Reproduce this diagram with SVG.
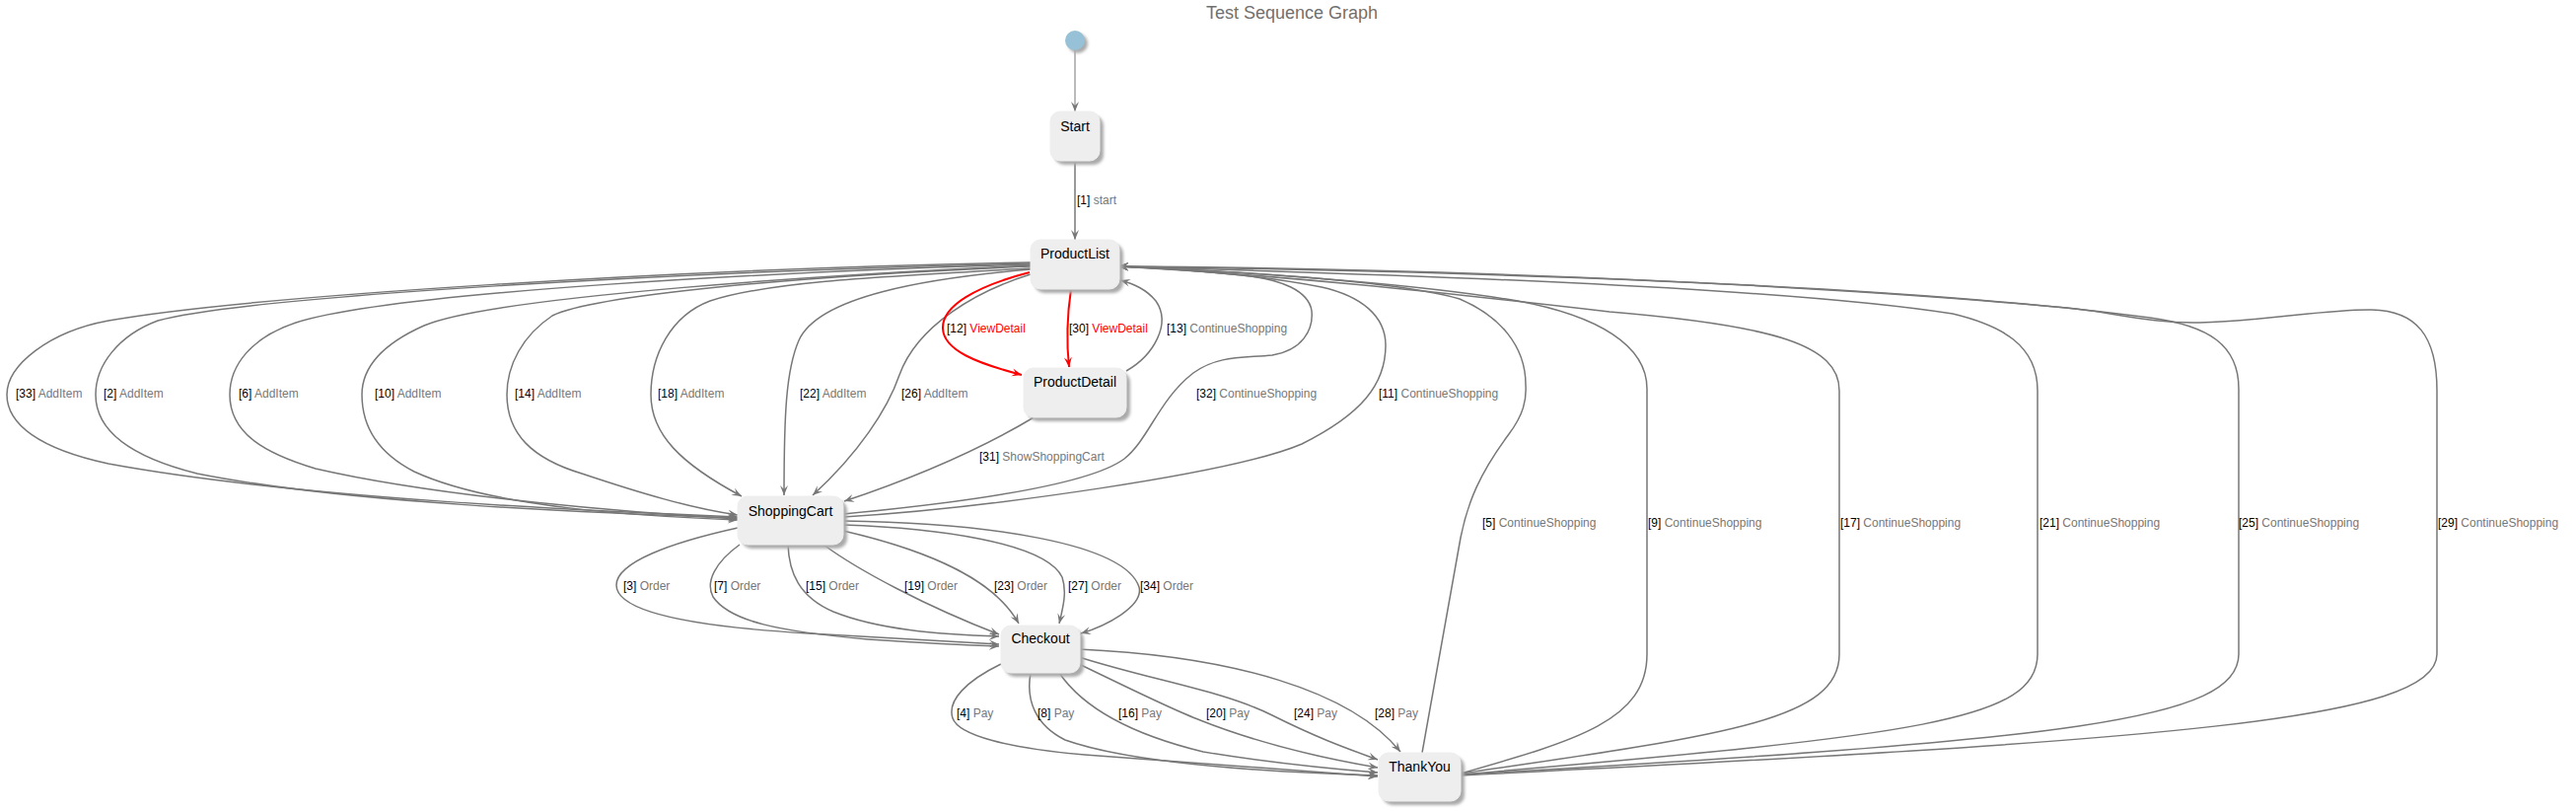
<svg xmlns="http://www.w3.org/2000/svg" width="2612" height="822" viewBox="0 0 2612 822">
<style>
.e{fill:none;stroke:#777;stroke-width:1.5}
.r{fill:none;stroke:#f00;stroke-width:2}
.n{fill:#eee;stroke:#eee}
.sh{fill:#aaa;filter:url(#b)}
.nt{font-family:"Liberation Sans",Arial,sans-serif;font-size:14px;fill:#000;text-anchor:middle}
.lt{font-family:"Liberation Sans",Arial,sans-serif;font-size:12px;fill:#000}
.g{fill:#777}
.rd{fill:#f00}
</style>
<defs>
<filter id="b" x="-20%" y="-20%" width="140%" height="140%"><feGaussianBlur stdDeviation="1.6"/></filter>
<marker id="a" markerWidth="12" markerHeight="10" refX="10" refY="5" orient="auto" markerUnits="userSpaceOnUse"><path d="M0,1 L10,5 L0,9 L4,5 Z" fill="#777"/></marker>
<marker id="ar" markerWidth="12" markerHeight="10" refX="10" refY="5" orient="auto" markerUnits="userSpaceOnUse"><path d="M0,1 L10,5 L0,9 L4,5 Z" fill="#f00"/></marker>
</defs>
<rect width="2612" height="822" fill="#fff"/>
<text x="1310" y="19" font-family="Liberation Sans,Arial,sans-serif" font-size="18" fill="#707070" text-anchor="middle">Test Sequence Graph</text>

<g id="connectors">
<path class="e" style="stroke-width:1" marker-end="url(#a)" d="M1090,51 L1090,113"/>
<path class="e" marker-end="url(#a)" d="M1090,163 L1090,243"/>
<path class="e" marker-end="url(#a)" d="M1045,266 C700,272 250,300 110,325 C50,336 7,370 7,400 C7,430 40,455 110,470 C300,505 600,518 748,524"/>
<path class="e" marker-end="url(#a)" d="M1045,267 C700,275 250,300 160,325 C120,340 97,370 97,400 C97,440 140,465 200,480 C350,510 600,520 748,525"/>
<path class="e" marker-end="url(#a)" d="M1045,268 C800,275 400,295 300,327 C255,342 233,370 233,400 C233,440 270,460 320,475 C450,505 650,520 748,526"/>
<path class="e" marker-end="url(#a)" d="M1045,269 C850,278 500,300 430,330 C385,350 367,375 367,400 C367,435 385,460 420,478 C500,515 650,523 748,527"/>
<path class="e" marker-end="url(#a)" d="M1045,270 C800,280 600,300 560,320 C530,340 514,370 514,400 C514,440 540,465 590,480 C650,500 700,515 748,522"/>
<path class="e" marker-end="url(#a)" d="M1045,272 C900,280 780,285 720,305 C680,320 660,360 660,400 C660,440 690,470 752,503"/>
<path class="e" marker-end="url(#a)" d="M1045,273 C940,282 830,300 810,345 C797,375 795,420 795,502"/>
<path class="e" marker-end="url(#a)" d="M1045,278 C990,295 930,330 912,380 C900,415 870,460 824,502"/>
<path class="r" marker-end="url(#ar)" d="M1044,276 C990,290 955,310 956,333 C957,355 990,368 1036,380"/>
<path class="r" marker-end="url(#ar)" d="M1086,293 C1082,320 1081,345 1084,372"/>
<path class="e" marker-end="url(#a)" d="M1142,376 C1170,360 1188,328 1172,305 C1162,293 1150,288 1136,284"/>
<path class="e" marker-end="url(#a)" d="M1050,422 C1000,452 940,480 856,508"/>
<path class="e" marker-end="url(#a)" d="M855,521 C950,512 1100,495 1140,465 C1165,445 1175,405 1210,378 C1235,360 1260,363 1290,360 C1320,355 1332,335 1330,315 C1327,295 1300,283 1260,279 C1220,275 1170,271 1134,270"/>
<path class="e" marker-end="url(#a)" d="M855,524 C1000,515 1250,480 1320,450 C1380,420 1405,390 1405,350 C1405,320 1380,300 1340,291 C1270,277 1180,272 1134,270"/>
<path class="e" marker-end="url(#a)" d="M748,535 C680,550 625,570 625,593 C625,620 700,635 820,642 C900,647 960,650 1013,653"/>
<path class="e" marker-end="url(#a)" d="M750,552 C725,570 715,590 723,605 C740,630 790,640 880,648 C940,652 980,654 1013,655"/>
<path class="e" marker-end="url(#a)" d="M799,552 C800,580 810,605 845,620 C890,638 950,643 1013,645"/>
<path class="e" marker-end="url(#a)" d="M835,552 C870,578 940,615 1013,643"/>
<path class="e" marker-end="url(#a)" d="M855,538 C950,560 1010,590 1033,632"/>
<path class="e" marker-end="url(#a)" d="M855,532 C950,535 1060,550 1077,585 C1082,600 1078,615 1074,632"/>
<path class="e" marker-end="url(#a)" d="M855,528 C1000,530 1140,550 1155,595 C1160,615 1120,635 1096,642"/>
<path class="e" marker-end="url(#a)" d="M1015,673 C980,690 960,710 966,728 C972,745 1020,758 1100,765 C1250,777 1350,784 1397,787"/>
<path class="e" marker-end="url(#a)" d="M1045,682 C1040,710 1050,735 1080,750 C1150,775 1300,783 1397,786"/>
<path class="e" marker-end="url(#a)" d="M1074,682 C1100,720 1150,745 1220,762 C1300,775 1360,780 1397,783"/>
<path class="e" marker-end="url(#a)" d="M1094,673 C1150,700 1190,720 1217,730 C1280,755 1350,770 1397,778"/>
<path class="e" marker-end="url(#a)" d="M1094,666 C1170,690 1240,700 1290,725 C1340,750 1370,760 1397,770"/>
<path class="e" marker-end="url(#a)" d="M1094,658 C1250,665 1370,700 1420,762"/>
<path class="e" marker-end="url(#a)" d="M1442,763 L1481,545 C1488,510 1500,480 1530,440 C1545,420 1548,405 1547,390 C1547,350 1520,320 1480,303 C1420,285 1250,275 1134,270"/>
<path class="e" marker-end="url(#a)" d="M1481,784 C1600,750 1670,730 1670,663 L1670,394 C1670,350 1620,320 1539,305 C1450,290 1300,277 1134,270"/>
<path class="e" marker-end="url(#a)" d="M1481,784 C1750,745 1865,730 1865,663 L1865,396 C1865,350 1800,330 1632,316 C1450,295 1300,279 1134,270"/>
<path class="e" marker-end="url(#a)" d="M1481,785 C1950,745 2066,730 2066,663 L2066,396 C2066,350 2030,330 1980,318 C1800,290 1400,278 1134,270"/>
<path class="e" marker-end="url(#a)" d="M1481,785 C2100,750 2270,730 2270,663 L2270,394 C2270,350 2240,330 2180,322 C1900,285 1400,274 1134,270"/>
<path class="e" marker-end="url(#a)" d="M1481,786 C2200,750 2471,730 2471,663 L2471,396 C2471,340 2450,315 2405,314 C2360,313 2300,325 2230,327 C2180,328 2140,316 2096,312 C1800,285 1400,271 1134,270"/>
</g>

<g id="edge-labels">
<text class="lt" x="1092" y="207">[1] <tspan class="g">start</tspan></text>
<text class="lt" x="960" y="337">[12] <tspan class="rd">ViewDetail</tspan></text>
<text class="lt" x="1084" y="337">[30] <tspan class="rd">ViewDetail</tspan></text>
<text class="lt" x="1183" y="337">[13] <tspan class="g">ContinueShopping</tspan></text>
<text class="lt" x="16" y="403">[33] <tspan class="g">AddItem</tspan></text>
<text class="lt" x="105" y="403">[2] <tspan class="g">AddItem</tspan></text>
<text class="lt" x="242" y="403">[6] <tspan class="g">AddItem</tspan></text>
<text class="lt" x="380" y="403">[10] <tspan class="g">AddItem</tspan></text>
<text class="lt" x="522" y="403">[14] <tspan class="g">AddItem</tspan></text>
<text class="lt" x="667" y="403">[18] <tspan class="g">AddItem</tspan></text>
<text class="lt" x="811" y="403">[22] <tspan class="g">AddItem</tspan></text>
<text class="lt" x="914" y="403">[26] <tspan class="g">AddItem</tspan></text>
<text class="lt" x="1213" y="403">[32] <tspan class="g">ContinueShopping</tspan></text>
<text class="lt" x="1398" y="403">[11] <tspan class="g">ContinueShopping</tspan></text>
<text class="lt" x="993" y="467">[31] <tspan class="g">ShowShoppingCart</tspan></text>
<text class="lt" x="1503" y="534">[5] <tspan class="g">ContinueShopping</tspan></text>
<text class="lt" x="1671" y="534">[9] <tspan class="g">ContinueShopping</tspan></text>
<text class="lt" x="1866" y="534">[17] <tspan class="g">ContinueShopping</tspan></text>
<text class="lt" x="2068" y="534">[21] <tspan class="g">ContinueShopping</tspan></text>
<text class="lt" x="2270" y="534">[25] <tspan class="g">ContinueShopping</tspan></text>
<text class="lt" x="2472" y="534">[29] <tspan class="g">ContinueShopping</tspan></text>
<text class="lt" x="632" y="598">[3] <tspan class="g">Order</tspan></text>
<text class="lt" x="724" y="598">[7] <tspan class="g">Order</tspan></text>
<text class="lt" x="817" y="598">[15] <tspan class="g">Order</tspan></text>
<text class="lt" x="917" y="598">[19] <tspan class="g">Order</tspan></text>
<text class="lt" x="1008" y="598">[23] <tspan class="g">Order</tspan></text>
<text class="lt" x="1083" y="598">[27] <tspan class="g">Order</tspan></text>
<text class="lt" x="1156" y="598">[34] <tspan class="g">Order</tspan></text>
<text class="lt" x="970" y="727">[4] <tspan class="g">Pay</tspan></text>
<text class="lt" x="1052" y="727">[8] <tspan class="g">Pay</tspan></text>
<text class="lt" x="1134" y="727">[16] <tspan class="g">Pay</tspan></text>
<text class="lt" x="1223" y="727">[20] <tspan class="g">Pay</tspan></text>
<text class="lt" x="1312" y="727">[24] <tspan class="g">Pay</tspan></text>
<text class="lt" x="1394" y="727">[28] <tspan class="g">Pay</tspan></text>
</g>

<g id="initial">
<circle cx="1093" cy="44" r="10" class="sh"/>
<circle cx="1090" cy="41" r="10" fill="#97c1d6"/>
</g>
<g id="Start">
<rect x="1069" y="117" width="50" height="50" rx="10" class="sh"/>
<rect x="1065" y="113" width="50" height="50" rx="10" class="n"/>
<text x="1090" y="133" class="nt">Start</text>
</g>
<g id="ProductList">
<rect x="1049" y="247" width="90" height="50" rx="10" class="sh"/>
<rect x="1045" y="243" width="90" height="50" rx="10" class="n"/>
<text x="1090" y="262" class="nt">ProductList</text>
</g>
<g id="ProductDetail">
<rect x="1042" y="377" width="104" height="50" rx="10" class="sh"/>
<rect x="1038" y="373" width="104" height="50" rx="10" class="n"/>
<text x="1090" y="392" class="nt">ProductDetail</text>
</g>
<g id="ShoppingCart">
<rect x="752" y="507" width="107" height="49" rx="10" class="sh"/>
<rect x="748" y="503" width="107" height="49" rx="10" class="n"/>
<text x="801.5" y="523" class="nt">ShoppingCart</text>
</g>
<g id="Checkout">
<rect x="1019" y="638" width="80" height="48" rx="10" class="sh"/>
<rect x="1015" y="634" width="80" height="48" rx="10" class="n"/>
<text x="1055" y="652" class="nt">Checkout</text>
</g>
<g id="ThankYou">
<rect x="1402" y="767" width="83" height="49" rx="10" class="sh"/>
<rect x="1398" y="763" width="83" height="49" rx="10" class="n"/>
<text x="1439.5" y="782" class="nt">ThankYou</text>
</g>
</svg>
